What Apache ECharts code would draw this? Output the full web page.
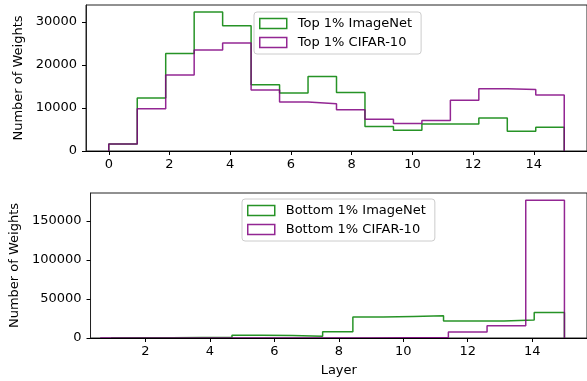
<!DOCTYPE html>
<html>
<head>
<meta charset="utf-8">
<script src="https://cdn.jsdelivr.net/npm/echarts@6/dist/echarts.min.js"></script>
<style>html,body{margin:0;padding:0;background:#fff}#c{width:587px;height:381px}</style>
</head>
<body>
<div id="c"></div>
<script>
// ---- data ----
const topEdges = [0, 0.9375, 1.875, 2.8125, 3.75, 4.6875, 5.625, 6.5625, 7.5, 8.4375, 9.375, 10.3125, 11.25, 12.1875, 13.125, 14.0625, 15];
const topImageNet = [1600, 12300, 22700, 32300, 29100, 15400, 13500, 17300, 13600, 5700, 4800, 6300, 6300, 7700, 4600, 5500];
const topCifar = [1600, 9800, 17700, 23500, 25100, 14200, 11400, 11000, 9600, 7400, 6400, 7100, 11800, 14500, 14300, 13000];

const bottomImageNetEdges = [0.9375, 1.875, 2.8125, 3.75, 4.6875, 5.625, 6.5625, 7.5, 8.4375, 9.375, 10.3125, 11.25, 12.1875, 13.125, 14.0625, 15];
const bottomImageNet = [300, 300, 500, 800, 3400, 3200, 2200, 8000, 26900, 27700, 28500, 21700, 21700, 23000, 32800];
const bottomCifarEdges = [0.6, 1.8, 3.0, 4.2, 5.4, 6.6, 7.8, 9.0, 10.2, 11.4, 12.6, 13.8, 15.0];
const bottomCifar = [0, 0, 0, 0, 0, 0, 0, 300, 600, 7700, 15700, 176500];

const topXTicks = [0, 2, 4, 6, 8, 10, 12, 14];
const bottomXTicks = [2, 4, 6, 8, 10, 12, 14];
const topYTicks = [0, 10000, 20000, 30000];
const bottomYTicks = [0, 50000, 100000, 150000];

const names = ['Top 1% ImageNet', 'Top 1% CIFAR-10', 'Bottom 1% ImageNet', 'Bottom 1% CIFAR-10'];
const GREEN = '#008000', PURPLE = '#800080';

// ---- helpers ----
function stepPoints(edges, vals) {
  const pts = [[edges[0], 0]];
  for (let i = 0; i < vals.length; i++) {
    pts.push([edges[i], vals[i]]);
    pts.push([edges[i + 1], vals[i]]);
  }
  pts.push([edges[edges.length - 1], 0]);
  return pts;
}
const FONT = 'DejaVu Sans';
function stepSeries(name, edges, vals, color, idx) {
  return {
    name, type: 'line', xAxisIndex: idx, yAxisIndex: idx,
    data: stepPoints(edges, vals), symbol: 'none', showSymbol: false,
    lineStyle: { color, width: 1.5, opacity: 0.85 }, itemStyle: { color },
    z: 2, animation: false, silent: true
  };
}
function xAxis(idx, min, max, ticks, withName) {
  const a = {
    type: 'value', gridIndex: idx, min, max, z: 5,
    axisLine: { show: true, onZero: false, lineStyle: { color: '#000', width: 1 } },
    axisTick: { show: true, length: 4, customValues: ticks, lineStyle: { color: '#000' } },
    axisLabel: { customValues: ticks, margin: 7, fontSize: 13, fontFamily: FONT, color: '#000', formatter: v => String(v) },
    splitLine: { show: false }
  };
  if (withName) {
    a.name = 'Layer'; a.nameLocation = 'middle'; a.nameGap = 26;
    a.nameTextStyle = { fontSize: 13, fontFamily: FONT, color: '#000' };
  }
  return a;
}
function yAxis(idx, max, ticks, gap) {
  return {
    type: 'value', gridIndex: idx, min: 0, max, z: 5,
    name: 'Number of Weights', nameLocation: 'middle', nameGap: gap,
    nameTextStyle: { fontSize: 13, fontFamily: FONT, color: '#000' },
    axisLine: { show: true, onZero: false, lineStyle: { color: '#222', width: 1 } },
    axisTick: { show: true, length: 4, customValues: ticks, lineStyle: { color: '#000' } },
    axisLabel: { customValues: ticks, margin: 9, fontSize: 13, fontFamily: FONT, color: '#000', formatter: v => String(v) },
    splitLine: { show: false }
  };
}
function legend(data, colors, left, top) {
  return {
    orient: 'vertical', left, top, itemWidth: 27, itemHeight: 10, itemGap: 6,
    icon: 'rect',
    padding: [5, 9, 5, 5],
    backgroundColor: 'rgba(255,255,255,0.85)', borderColor: '#cccccc', borderWidth: 1, borderRadius: 3,
    textStyle: { fontSize: 13, fontFamily: FONT, color: '#000', padding: [0, 0, 0, 6] },
    data: data.map((n, i) => ({
      name: n, icon: 'rect',
      itemStyle: { color: 'rgba(0,0,0,0)', borderColor: colors[i], borderWidth: 1.5, opacity: 0.85 }
    })),
    selectedMode: false
  };
}

const chart = echarts.init(document.getElementById('c'), null, { renderer: 'canvas' });
chart.setOption({
  animation: false,
  backgroundColor: '#fff',
  grid: [
    { left: 86, top: 5, width: 504, height: 146, show: true, borderColor: '#222', borderWidth: 1, backgroundColor: 'transparent' },
    { left: 86, top: 193, width: 504, height: 145, show: true, borderColor: '#222', borderWidth: 1, backgroundColor: 'transparent' }
  ],
  xAxis: [
    xAxis(0, -0.75, 15.75, topXTicks, false),
    xAxis(1, 0.3, 15.7, bottomXTicks, true)
  ],
  yAxis: [
    yAxis(0, 33950, topYTicks, 60),
    yAxis(1, 185800, bottomYTicks, 65)
  ],
  legend: [
    legend([names[0], names[1]], [GREEN, PURPLE], 254, 12),
    legend([names[2], names[3]], [GREEN, PURPLE], 242, 199)
  ],
  series: [
    stepSeries(names[0], topEdges, topImageNet, GREEN, 0),
    stepSeries(names[1], topEdges, topCifar, PURPLE, 0),
    stepSeries(names[2], bottomImageNetEdges, bottomImageNet, GREEN, 1),
    stepSeries(names[3], bottomCifarEdges, bottomCifar, PURPLE, 1)
  ]
});
</script>
</body>
</html>
